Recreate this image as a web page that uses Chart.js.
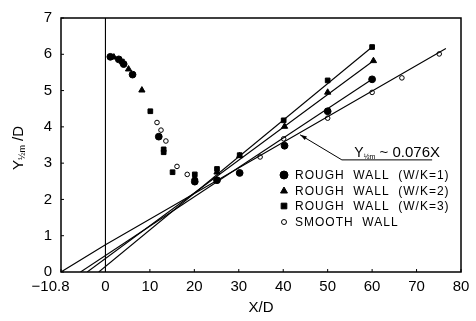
<!DOCTYPE html>
<html>
<head>
<meta charset="utf-8">
<script src="https://cdn.jsdelivr.net/npm/chart.js@4.4.0/dist/chart.umd.min.js"></script>
<style>
html, body { margin: 0; padding: 0; background: #fff; }
</style>
</head>
<body>
<canvas id="chart" width="476" height="321"></canvas>
<script>
// ==========================================
// DATA
// ==========================================

// Rough wall W/K=1 (filled circles)
const wk1X = [1.1, 3.0, 4.1, 6.1, 12.0, 20.1, 25.1, 30.2, 40.3, 50.0, 60.0];
const wk1Y = [5.93, 5.86, 5.73, 5.44, 3.73, 2.49, 2.53, 2.73, 3.48, 4.43, 5.31];

// Rough wall W/K=2 (triangles)
const wk2X = [1.9, 5.2, 8.2, 20.1, 25.1, 30.2, 40.3, 50.0, 60.3];
const wk2Y = [5.92, 5.59, 5.01, 2.60, 2.75, 3.20, 4.01, 4.95, 5.82];

// Rough wall W/K=3 (squares)
const wk3X = [3.7, 10.1, 13.1, 13.1, 15.1, 20.1, 25.1, 30.2, 40.1, 50.0, 60.0];
const wk3Y = [5.80, 4.43, 3.38, 3.30, 2.75, 2.69, 2.84, 3.22, 4.18, 5.28, 6.20];

// Smooth wall (open circles)
const smoothX = [11.6, 12.5, 13.6, 16.1, 18.4, 34.8, 40.1, 50.0, 60.0, 66.7, 75.1];
const smoothY = [4.12, 3.91, 3.61, 2.91, 2.69, 3.17, 3.67, 4.24, 4.95, 5.35, 6.01];

// Fitted growth lines
const fitSmoothX = [-10, 0, 76.6];
const fitSmoothY = [0, 0.75, 6.16];
const fitWk1X = [-5.6, 60.0];
const fitWk1Y = [0, 5.31];
const fitWk2X = [-4.1, 60.3];
const fitWk2Y = [0, 5.82];
const fitWk3X = [-1.5, 60.0];
const fitWk3Y = [0, 6.20];

// Wall position
const wallX = [0, 0];
const wallY = [0, 7];

// Axes
const xTickValues = [-10, 0, 10, 20, 30, 40, 50, 60, 70, 80];
const xTickLabels = ['\u221210.8     ', '0', '10', '20', '30', '40', '50', '60', '70', '80'];
const yTickValues = [0, 1, 2, 3, 4, 5, 6, 7];

const legendLabels = [
    'ROUGH  WALL  (W/K=1)',
    'ROUGH  WALL  (W/K=2)',
    'ROUGH  WALL  (W/K=3)',
    'SMOOTH  WALL'
];

// Annotation leader (arrow tip, elbow, end)
const leaderX = [43.8, 53.2, 73.5];
const leaderY = [3.78, 3.09, 3.09];

// ==========================================
// HELPERS
// ==========================================

const toPoints = (xs, ys) => xs.map((x, i) => ({ x: x, y: ys[i] }));

const FONT = '"Liberation Sans", Arial, sans-serif';

const markerSet = (label, xs, ys, style, radius, filled) => ({
    label: label,
    data: toPoints(xs, ys),
    showLine: false,
    pointStyle: style,
    pointRadius: radius,
    pointBorderWidth: 1,
    pointBorderColor: '#000',
    pointBackgroundColor: filled ? '#000' : '#fff'
});

const lineSet = (xs, ys) => ({
    data: toPoints(xs, ys),
    showLine: true,
    borderColor: '#000',
    borderWidth: 1.1,
    pointRadius: 0,
    tension: 0
});

// ==========================================
// DECORATION PLUGIN
// ==========================================

const decorations = {
    id: 'decorations',
    afterDraw(chart) {
        const ctx = chart.ctx;
        const area = chart.chartArea;
        const xs = chart.scales.x;
        const ys = chart.scales.y;
        ctx.save();

        // frame
        ctx.strokeStyle = '#000';
        ctx.lineWidth = 1.5;
        ctx.strokeRect(area.left, area.top, area.right - area.left, area.bottom - area.top);

        // inward tick marks
        ctx.lineWidth = 1;
        xTickValues.forEach(v => {
            const px = xs.getPixelForValue(v);
            ctx.beginPath();
            ctx.moveTo(px, area.bottom);
            ctx.lineTo(px, area.bottom - 3);
            ctx.stroke();
        });
        yTickValues.forEach(v => {
            const py = ys.getPixelForValue(v);
            ctx.beginPath();
            ctx.moveTo(area.left, py);
            ctx.lineTo(area.left + 3, py);
            ctx.stroke();
        });

        // y axis title: Y½m /D
        ctx.fillStyle = '#000';
        ctx.translate(19, 148);
        ctx.rotate(-Math.PI / 2);
        ctx.textBaseline = 'middle';
        ctx.textAlign = 'left';
        const parts = [
            { t: 'Y', f: '15px ' + FONT, dy: 0 },
            { t: '\u00BD', f: '9px ' + FONT, dy: 4 },
            { t: 'm', f: '9px ' + FONT, dy: 4 },
            { t: ' /D', f: '15px ' + FONT, dy: 0 }
        ];
        let total = 0;
        parts.forEach(p => { ctx.font = p.f; total += ctx.measureText(p.t).width; });
        let cx = -total / 2;
        parts.forEach(p => {
            ctx.font = p.f;
            ctx.fillText(p.t, cx, p.dy);
            cx += ctx.measureText(p.t).width;
        });
        ctx.setTransform(1, 0, 0, 1, 0, 0);

        // annotation leader line
        ctx.lineWidth = 1;
        ctx.beginPath();
        leaderX.forEach((v, i) => {
            const px = xs.getPixelForValue(v);
            const py = ys.getPixelForValue(leaderY[i]);
            if (i === 0) ctx.moveTo(px, py); else ctx.lineTo(px, py);
        });
        ctx.stroke();
        // arrow head
        const ax = xs.getPixelForValue(leaderX[0]);
        const ay = ys.getPixelForValue(leaderY[0]);
        const bx = xs.getPixelForValue(leaderX[1]);
        const by = ys.getPixelForValue(leaderY[1]);
        const ang = Math.atan2(by - ay, bx - ax);
        ctx.beginPath();
        ctx.moveTo(ax, ay);
        ctx.lineTo(ax + 7 * Math.cos(ang - 0.3), ay + 7 * Math.sin(ang - 0.3));
        ctx.lineTo(ax + 7 * Math.cos(ang + 0.3), ay + 7 * Math.sin(ang + 0.3));
        ctx.closePath();
        ctx.fill();

        // annotation text: Y½m ~ 0.076X
        const tx = xs.getPixelForValue(56);
        const ty = ys.getPixelForValue(leaderY[1]) - 3;
        ctx.textBaseline = 'alphabetic';
        ctx.textAlign = 'left';
        let ax2 = tx;
        const ann = [
            { t: 'Y', f: '14px ' + FONT, dy: 0 },
            { t: '\u00BD', f: '7px ' + FONT, dy: 2 },
            { t: 'm', f: '7px ' + FONT, dy: 2 },
            { t: ' ~ 0.076X', f: '15px ' + FONT, dy: 0 }
        ];
        ann.forEach(p => {
            ctx.font = p.f;
            ctx.fillText(p.t, ax2, ty + p.dy);
            ax2 += ctx.measureText(p.t).width;
        });

        // legend
        const styles = ['circle', 'triangle', 'rect', 'circle'];
        const filled = [true, true, true, false];
        const rowY = [175, 191, 206, 222];
        ctx.font = '12px ' + FONT;
        ctx.textBaseline = 'middle';
        if ('letterSpacing' in ctx) ctx.letterSpacing = '1px';
        legendLabels.forEach((lab, i) => {
            const mx = 284;
            const my = rowY[i];
            ctx.fillStyle = filled[i] ? '#000' : '#fff';
            ctx.strokeStyle = '#000';
            ctx.lineWidth = 1;
            Chart.helpers.drawPoint(ctx, {
                pointStyle: styles[i],
                radius: i === 3 ? 2.5 : 4,
                borderWidth: 1
            }, mx, my);
            ctx.fillStyle = '#000';
            ctx.fillText(lab, 295, my + 0.5);
        });
        ctx.restore();
    }
};

// ==========================================
// CHART
// ==========================================

const ctx = document.getElementById('chart').getContext('2d');

new Chart(ctx, {
    type: 'scatter',
    data: {
        datasets: [
            lineSet(wallX, wallY),
            lineSet(fitSmoothX, fitSmoothY),
            lineSet(fitWk1X, fitWk1Y),
            lineSet(fitWk2X, fitWk2Y),
            lineSet(fitWk3X, fitWk3Y),
            markerSet('ROUGH WALL (W/K=1)', wk1X, wk1Y, 'circle', 3.4, true),
            markerSet('ROUGH WALL (W/K=2)', wk2X, wk2Y, 'triangle', 3.6, true),
            markerSet('ROUGH WALL (W/K=3)', wk3X, wk3Y, 'rect', 3.3, true),
            markerSet('SMOOTH WALL', smoothX, smoothY, 'circle', 2.3, false)
        ]
    },
    options: {
        responsive: false,
        animation: false,
        devicePixelRatio: 1,
        layout: {
            padding: { top: 11, right: 15, left: 0, bottom: 0 }
        },
        plugins: {
            legend: { display: false },
            tooltip: { enabled: false }
        },
        scales: {
            x: {
                type: 'linear',
                min: -10,
                max: 80,
                afterBuildTicks: (scale) => {
                    scale.ticks = xTickValues.map(v => ({ value: v }));
                },
                afterFit: (scale) => { scale.height = 49; },
                grid: { display: false, drawTicks: false },
                border: { display: false },
                ticks: {
                    color: '#000',
                    padding: 6,
                    maxRotation: 0,
                    autoSkip: false,
                    font: { family: FONT, size: 15 },
                    callback: (value) => {
                        const i = xTickValues.indexOf(value);
                        return i >= 0 ? xTickLabels[i] : '';
                    }
                },
                title: {
                    display: true,
                    text: 'X/D',
                    color: '#000',
                    font: { family: FONT, size: 15 },
                    padding: { top: 2 }
                }
            },
            y: {
                type: 'linear',
                min: 0,
                max: 7,
                afterBuildTicks: (scale) => {
                    scale.ticks = yTickValues.map(v => ({ value: v }));
                },
                afterFit: (scale) => { scale.width = 61; },
                grid: { display: false, drawTicks: false },
                border: { display: false },
                ticks: {
                    color: '#000',
                    padding: 9,
                    font: { family: FONT, size: 15 }
                }
            }
        }
    },
    plugins: [decorations]
});
</script>
</body>
</html>
